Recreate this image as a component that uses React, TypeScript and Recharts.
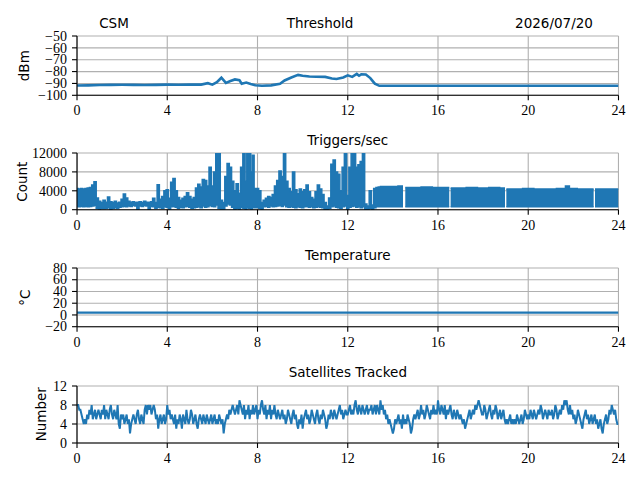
import React from 'react'
import { ComposedChart, Line, Area, XAxis, YAxis, CartesianGrid } from 'recharts'

const BLUE = '#1f77b4'
const GRID = '#b0b0b0'
const SERIF = "'Liberation Serif', 'Times New Roman', serif"
const SANS = "'DejaVu Sans', sans-serif"

const X_TICKS = [0, 4, 8, 12, 16, 20, 24]

// Threshold (dBm)
const THR_T = [0, 0.5, 1, 1.5, 2, 2.5, 3, 3.5, 4, 4.5, 5, 5.5, 5.8, 6.0, 6.2, 6.4, 6.6, 6.8, 7.0, 7.2, 7.3, 7.5, 7.7, 7.9, 8.2, 8.6, 9.0, 9.2, 9.5, 9.8, 10.0, 10.3, 10.6, 11.0, 11.3, 11.5, 11.8, 12.0, 12.2, 12.4, 12.5, 12.6, 12.8, 13.0, 13.2, 13.4, 14, 16, 18, 20, 22, 24]
const THR_V = [-91.8, -91.6, -91.3, -91.2, -91.1, -91.2, -91.3, -91.2, -91, -91.1, -91, -91, -89.8, -91, -89, -85.2, -89.5, -88, -86.6, -87.3, -90.2, -89.3, -90.5, -91.5, -92, -91.6, -90.3, -87.5, -85, -82.8, -83.5, -84.2, -84.4, -84.5, -85.8, -86.3, -85, -83.2, -84.5, -82, -83.5, -82.3, -82.5, -85.5, -90.2, -92, -92, -92, -92, -92, -92, -92]
const THR_TICKS = [-100, -90, -80, -70, -60, -50]

// Triggers/sec envelope (low / high per sample), null = gap
const TRIG_T = [
  0.0, 0.1, 0.2, 0.3, 0.4, 0.5, 0.6, 0.7, 0.8, 0.9,
  1.0, 1.1, 1.2, 1.3, 1.4, 1.5, 1.6, 1.7, 1.8, 1.9,
  2.0, 2.1, 2.2, 2.3, 2.4, 2.5, 2.6, 2.7, 2.8, 2.9,
  3.0, 3.1, 3.2, 3.3, 3.4, 3.5, 3.6, 3.7, 3.8, 3.9,
  4.0, 4.1, 4.2, 4.3, 4.4, 4.5, 4.6, 4.7, 4.8, 4.9,
  5.0, 5.1, 5.2, 5.3, 5.4, 5.5, 5.6, 5.7, 5.8, 5.9,
  6.0, 6.1, 6.2, 6.3, 6.4, 6.5, 6.6, 6.7, 6.8, 6.9,
  7.0, 7.1, 7.2, 7.3, 7.4, 7.5, 7.55, 7.65, 7.75, 7.8, 7.9,
  8.0, 8.1, 8.2, 8.3, 8.4, 8.5, 8.6, 8.7, 8.8, 8.9,
  9.0, 9.1, 9.2, 9.3, 9.4, 9.5, 9.6, 9.7, 9.8, 9.9,
  10.0, 10.1, 10.2, 10.3, 10.4, 10.5, 10.6, 10.7, 10.8, 10.9,
  11.0, 11.1, 11.2, 11.3, 11.4, 11.5, 11.6, 11.7, 11.8, 11.9,
  12.0, 12.1, 12.2, 12.3, 12.4, 12.5, 12.6, 12.7, 12.8, 12.9,
  13.0, 13.1, 13.2, 13.3, 13.4, 13.5, 14.0, 14.45, 14.5, 14.55,
  15.0, 15.5, 16.0, 16.5, 16.53, 16.56, 17.0, 17.5, 18.0, 18.5,
  18.97, 19.0, 19.03, 19.5, 20.0, 20.5, 21.0, 21.5, 21.8, 21.85,
  22.5, 22.9, 22.93, 22.96, 23.5, 24.0,
]
const TRIG_LO = [
  600, 600, 700, 600, 700, 600, 700, 800, 900, 300,
  0, 300, 200, 300, 400, 0, 300, 400, 300, 500,
  600, 700, 600, 800, 700, 900, 800, 0, 800, 700,
  900, 800, 0, 700, 600, 300, 500, 400, 300, 600,
  500, 0, 600, 700, 500, 300, 500, 400, 600, 700,
  500, 300, 400, 500, 600, 400, 800, 500, 600, 900,
  700, 600, 1000, 300, 0, 0, 800, 1200, 1000, 500,
  0, 300, 0, 500, 300, 0, 500, 300, 0, 500, 400,
  500, 300, 0, 600, 700, 500, 800, 600, 700, 800,
  900, 700, 1000, 600, 500, 600, 500, 400, 600, 500,
  400, 600, 700, 500, 600, 400, 500, 600, 500, 400,
  0, 0, 300, 600, 800, 500, 400, 300, 600, 800,
  0, 500, 700, 800, 500, 600, 400, 600, 0, 0,
  300, 0, 400, 600, 600, 600, 600, 600, null, 600,
  600, 600, 600, 600, null, 600, 600, 600, 600, 600,
  600, null, 600, 600, 600, 600, 600, 600, 600, 600,
  600, 600, null, 600, 600, 600,
]
const TRIG_HI = [
  4500, 4400, 4500, 4400, 4500, 4600, 4700, 5200, 5900, 2500,
  1800, 1500, 2000, 1600, 2700, 1700, 1500, 1800, 1400, 1600,
  2200, 3300, 2500, 1800, 1600, 1700, 1500, 1600, 1700, 1500,
  1800, 1600, 1500, 1700, 2400, 1500, 5300, 2200, 2800, 4000,
  4200, 2400, 5800, 6600, 4000, 2600, 2000, 2400, 2800, 3600,
  2800, 2200, 2600, 4600, 5400, 4800, 6400, 6200, 5000, 9000,
  5000, 8000, 12500, 12500, 2000, 1500, 7000, 9800, 9000, 6000,
  4000, 5500, 3500, 9000, 12500, 6000, 12500, 12500, 8000, 11500, 4500,
  4500, 4000, 1500, 2000, 2400, 2800, 2600, 3200, 5000, 6200,
  8200, 7000, 12500, 6000, 4500, 3800, 8000, 4200, 3400, 4400,
  3800, 4200, 5200, 3800, 2600, 2200, 3800, 5200, 4400, 3200,
  1500, 800, 2500, 9600, 10500, 8000, 7500, 4000, 9000, 12500,
  3000, 9000, 12500, 12500, 9000, 9500, 10200, 12500, 1200, 800,
  4000, 1000, 4500, 4700, 4800, 4900, 4900, 5000, null, 4700,
  4700, 4800, 4700, 4700, null, 4600, 4600, 4700, 4600, 4700,
  4600, null, 4400, 4400, 4500, 4400, 4400, 4500, 5000, 4500,
  4400, 4400, null, 4400, 4400, 4400,
]
const TRIG_TICKS = [0, 4000, 8000, 12000]

// Temperature (°C)
const TEMP_T = [0, 24]
const TEMP_V = [4, 4]
const TEMP_TICKS = [-20, 0, 20, 40, 60, 80]

// Satellites tracked, one sample every 0.05 h from 0 to 24
const SAT_STEP = 0.05
const SAT_V = [
  8, 8, 7, 7, 6, 5, 4, 5, 4, 6, 5, 7, 6, 8, 5, 6, 7, 5, 6, 7,
  6, 5, 7, 6, 8, 5, 7, 6, 5, 7, 8, 6, 5, 7, 6, 5, 8, 4, 3, 6,
  5, 6, 4, 5, 6, 4, 5, 2, 4, 5, 6, 5, 4, 6, 7, 5, 4, 6, 5, 4,
  7, 8, 6, 8, 7, 8, 6, 7, 8, 7, 5, 6, 3, 5, 6, 4, 5, 6, 4, 5,
  8, 6, 7, 5, 6, 5, 4, 6, 3, 5, 4, 6, 5, 3, 6, 5, 4, 7, 5, 4,
  5, 7, 6, 4, 5, 6, 4, 3, 5, 6, 5, 4, 6, 5, 4, 6, 5, 4, 5, 6,
  4, 5, 6, 4, 5, 4, 6, 5, 4, 5, 2, 4, 5, 6, 5, 7, 6, 7, 8, 7,
  6, 7, 8, 6, 9, 8, 7, 6, 8, 5, 7, 6, 8, 5, 7, 6, 8, 6, 7, 8,
  5, 7, 6, 8, 9, 7, 6, 8, 5, 7, 6, 8, 5, 7, 6, 8, 6, 5, 7, 6,
  5, 6, 7, 5, 6, 4, 5, 7, 6, 5, 4, 6, 7, 5, 6, 4, 3, 5, 4, 6,
  3, 5, 6, 7, 5, 6, 4, 5, 7, 6, 5, 4, 6, 7, 5, 4, 6, 5, 7, 6,
  5, 3, 4, 6, 5, 7, 6, 5, 7, 6, 5, 6, 7, 8, 6, 7, 5, 6, 7, 6,
  6, 7, 8, 6, 7, 6, 8, 9, 7, 6, 8, 7, 6, 8, 7, 6, 7, 8, 6, 7,
  7, 8, 6, 7, 8, 6, 8, 7, 6, 9, 7, 8, 6, 7, 5, 6, 4, 5, 4, 3,
  2, 3, 5, 4, 5, 6, 4, 5, 3, 6, 4, 5, 4, 6, 5, 4, 2, 3, 5, 6,
  5, 6, 7, 5, 6, 8, 6, 7, 5, 6, 8, 7, 6, 5, 7, 6, 8, 6, 7, 6,
  9, 7, 6, 8, 7, 6, 8, 5, 7, 6, 7, 8, 6, 5, 7, 6, 5, 7, 6, 5,
  6, 5, 4, 5, 3, 4, 5, 6, 7, 5, 6, 7, 6, 8, 7, 8, 9, 8, 7, 6,
  6, 8, 7, 5, 6, 7, 8, 6, 5, 7, 6, 8, 7, 5, 6, 7, 5, 6, 7, 5,
  4, 5, 4, 5, 6, 4, 5, 4, 5, 4, 6, 5, 4, 5, 6, 4, 5, 7, 6, 5,
  6, 5, 7, 6, 5, 7, 6, 5, 6, 7, 6, 8, 7, 5, 6, 7, 6, 5, 7, 6,
  6, 7, 5, 6, 8, 7, 5, 6, 7, 6, 8, 7, 9, 8, 9, 7, 6, 8, 6, 7,
  5, 6, 4, 5, 7, 6, 5, 4, 3, 5, 6, 7, 5, 6, 4, 5, 6, 4, 5, 6,
  4, 5, 3, 4, 5, 3, 2, 4, 5, 6, 4, 5, 7, 6, 8, 7, 6, 7, 5, 4,
  4,
]
const SAT_TICKS = [0, 4, 8, 12]

const thrData = THR_T.map((t, i) => ({ t, v: THR_V[i] }))
const trigData = TRIG_T.map((t, i) => ({
  t,
  r: TRIG_LO[i] === null || TRIG_HI[i] === null ? null : [TRIG_LO[i], TRIG_HI[i]],
}))
const tempData = TEMP_T.map((t, i) => ({ t, v: TEMP_V[i] }))
const satData = SAT_V.map((v, i) => ({ t: Math.round(i * SAT_STEP * 100) / 100, v }))

const fmt = (v: number) => (v < 0 ? '\u2212' + Math.abs(v) : String(v))

// serif tick labels, like the TeX-rendered numbers of the original
const XTick = (props: any) => (
  <text x={props.x} y={props.y} dy="0.72em" textAnchor="middle" fill="#000" fontSize={14} style={{ fontFamily: SERIF }}>
    {fmt(props.payload.value)}
  </text>
)
const YTick = (props: any) => (
  <text x={props.x} y={props.y} dy="0.34em" textAnchor="end" fill="#000" fontSize={14} style={{ fontFamily: SERIF }}>
    {fmt(props.payload.value)}
  </text>
)

type PanelProps = {
  top: number
  plotH: number
  data: any[]
  domain: [number, number]
  ticks: number[]
  children: React.ReactNode
}

function Panel({ top, plotH, data, domain, ticks, children }: PanelProps) {
  return (
    <div style={{ position: 'absolute', left: 0, top: top - 10 }}>
      <ComposedChart
        width={640}
        height={plotH + 40}
        data={data}
        margin={{ top: 10, right: 21.5, bottom: 0, left: 17 }}
      >
        <CartesianGrid stroke={GRID} strokeWidth={1.1} />
        <XAxis
          dataKey="t"
          type="number"
          domain={[0, 24]}
          ticks={X_TICKS}
          interval={0}
          height={30}
          stroke="#000"
          strokeWidth={1.1}
          tick={<XTick />}
          tickSize={5}
          tickMargin={5}
          allowDataOverflow
        />
        <XAxis
          xAxisId="top"
          orientation="top"
          dataKey="t"
          type="number"
          domain={[0, 24]}
          height={0}
          tick={false}
          tickLine={false}
          stroke="#000"
          strokeWidth={1.1}
        />
        <YAxis
          type="number"
          domain={domain}
          ticks={ticks}
          interval={0}
          width={60}
          stroke="#000"
          strokeWidth={1.1}
          tick={<YTick />}
          tickSize={5}
          tickMargin={5}
          allowDataOverflow
        />
        <YAxis
          yAxisId="right"
          orientation="right"
          type="number"
          domain={domain}
          width={0}
          tick={false}
          tickLine={false}
          stroke="#000"
          strokeWidth={1.1}
        />
        {children}
      </ComposedChart>
    </div>
  )
}

export default function App() {
  return (
    <div style={{ position: 'absolute', left: 0, top: 0, width: 640, height: 480, background: '#fff' }}>
      <Panel top={36} plotH={59.3} data={thrData} domain={[-100, -50]} ticks={THR_TICKS}>
        <Line dataKey="v" type="linear" stroke={BLUE} strokeWidth={2.6} dot={false} isAnimationActive={false} />
      </Panel>
      <Panel top={153.3} plotH={56.7} data={trigData} domain={[0, 12000]} ticks={TRIG_TICKS}>
        <Area
          dataKey="r"
          type="step"
          stroke={BLUE}
          strokeWidth={1.5}
          fill={BLUE}
          fillOpacity={1}
          connectNulls={false}
          dot={false}
          activeDot={false}
          isAnimationActive={false}
        />
      </Panel>
      <Panel top={268.3} plotH={58.7} data={tempData} domain={[-20, 80]} ticks={TEMP_TICKS}>
        <Line dataKey="v" type="linear" stroke={BLUE} strokeWidth={2.2} dot={false} isAnimationActive={false} />
      </Panel>
      <Panel top={385.7} plotH={57} data={satData} domain={[0, 12]} ticks={SAT_TICKS}>
        <Line dataKey="v" type="linear" stroke={BLUE} strokeWidth={2} dot={false} isAnimationActive={false} />
      </Panel>
      <svg
        width={640}
        height={480}
        style={{ position: 'absolute', left: 0, top: 0, pointerEvents: 'none', fontFamily: SANS }}
        fontSize={13.5}
      >
        <text x={114} y={27.5} textAnchor="middle">CSM</text>
        <text x={320} y={27.5} textAnchor="middle">Threshold</text>
        <text x={554} y={27.5} textAnchor="middle">2026/07/20</text>
        <text x={347.8} y={145} textAnchor="middle">Triggers/sec</text>
        <text x={347.8} y={260} textAnchor="middle">Temperature</text>
        <text x={347.8} y={377.4} textAnchor="middle">Satellites Tracked</text>
        <text x={29.5} y={65.7} textAnchor="middle" transform="rotate(-90 29.5 65.7)">dBm</text>
        <text x={27} y={181.7} textAnchor="middle" transform="rotate(-90 27 181.7)">Count</text>
        <text x={30.5} y={297.7} textAnchor="middle" transform="rotate(-90 30.5 297.7)">°C</text>
        <text x={46} y={414.2} textAnchor="middle" transform="rotate(-90 46 414.2)">Number</text>
      </svg>
    </div>
  )
}
